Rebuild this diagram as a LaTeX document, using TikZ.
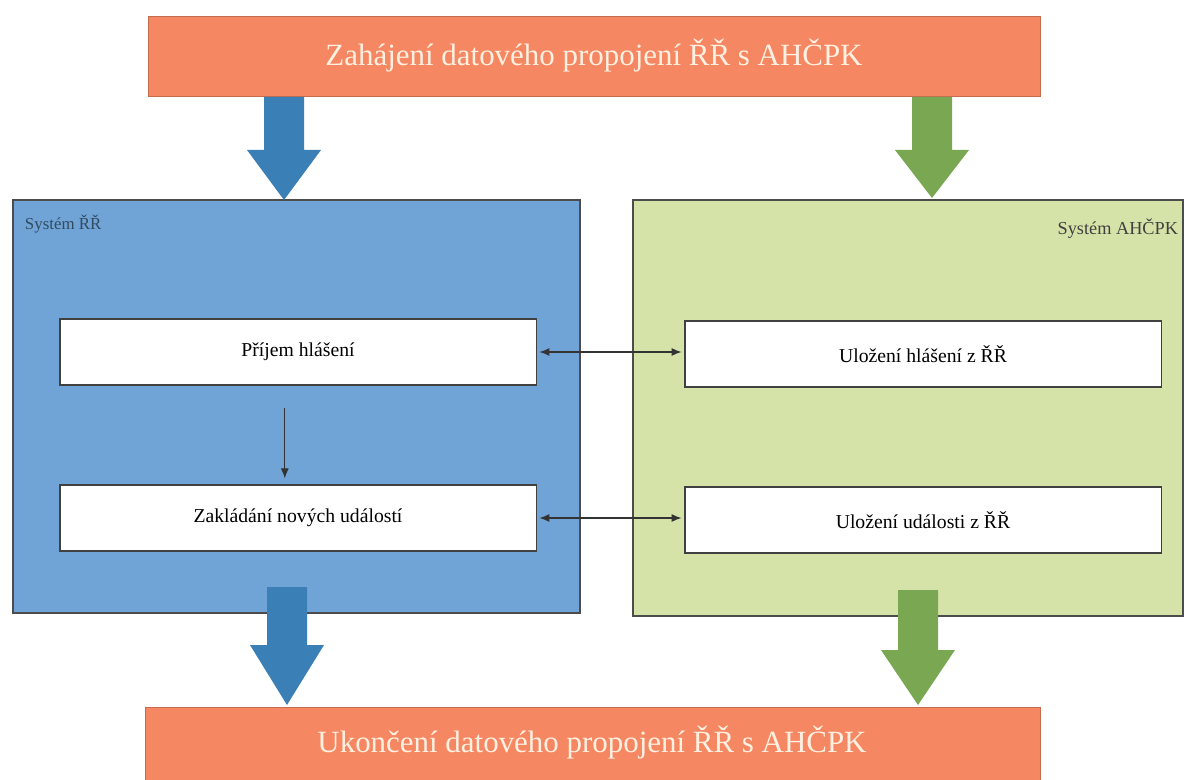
\documentclass[tikz,border=0pt]{standalone}
\usepackage{fontspec}
\setmainfont{Liberation Serif}
\usetikzlibrary{arrows.meta}

\definecolor{banner}{RGB}{245,135,98}
\definecolor{sysblue}{RGB}{112,164,214}
\definecolor{sysgreen}{RGB}{214,227,168}
\definecolor{arrblue}{RGB}{58,128,182}
\definecolor{arrgreen}{RGB}{122,168,82}
\definecolor{bannertext}{RGB}{255,240,225}

\tikzset{
	bannerbox/.style={fill=banner, draw=banner!80!black, minimum width=22.3cm, minimum height=2cm, text=bannertext, font=\fontsize{22}{26}\selectfont},
	innerbox/.style={fill=white, draw=black!75, thick, minimum width=11.9cm, minimum height=1.65cm, font=\fontsize{14}{17}\selectfont},
	link/.style={thick, black!80, >={Latex[length=2.5mm, width=2mm]}},
}

\begin{document}
\begin{tikzpicture}[x=0.025cm, y=-0.025cm]
	\useasboundingbox (0,0) rectangle (1190,780);

	% systems
	\draw[fill=sysblue, draw=black!70, thick] (13,200) rectangle (580,613);
	\draw[fill=sysgreen, draw=black!70, thick] (633,200) rectangle (1183,616);
	\node[anchor=north west, text=black!55!sysblue, font=\fontsize{12}{14}\selectfont] (sysRR) at (20,210) {Systém ŘŘ};
	\node[anchor=north east, text=black!75, font=\fontsize{13}{15}\selectfont] (sysAH) at (1183,214) {Systém AHČPK};

	% banners
	\node[bannerbox] (start) at (594,56) {Zahájení datového propojení ŘŘ s AHČPK};
	\fill[banner] (145,707) rectangle (1040,780);
	\draw[banner!80!black] (145,780) -- (145,707) -- (1040,707) -- (1040,780);
	\node[text=bannertext, font=\fontsize{22}{26}\selectfont] (end) at (592,743) {Ukončení datového propojení ŘŘ s AHČPK};

	% block arrows
	\foreach \cx/\ya/\yb/\yc/\col in {284/97/150/200/arrblue, 932/97/150/198/arrgreen, 287/587/645/705/arrblue, 918/590/650/705/arrgreen}{
	\fill[\col] (\cx-20,\ya) -- (\cx+20,\ya) -- (\cx+20,\yb) -- (\cx+37,\yb) -- (\cx,\yc) -- (\cx-37,\yb) -- (\cx-20,\yb) -- cycle;}

	% inner boxes
	\node[innerbox] (prijem) at (298,352) {Příjem hlášení};
	\node[innerbox] (zaklad) at (298,518) {Zakládání nových událostí};
	\node[innerbox] (ulozH) at (923,354) {Uložení hlášení z ŘŘ};
	\node[innerbox] (ulozU) at (923,520) {Uložení události z ŘŘ};

	\draw[link, ->, shorten <=0.55cm, shorten >=0.15cm] ([xshift=-0.33cm]prijem.south) -- ([xshift=-0.33cm]zaklad.north);
	\draw[link, <->, shorten <=0.07cm, shorten >=0.07cm] (prijem.east) -- (prijem.east -| ulozH.west);
	\draw[link, <->, shorten <=0.07cm, shorten >=0.07cm] (zaklad.east) -- (zaklad.east -| ulozU.west);

\end{tikzpicture}
\end{document}
